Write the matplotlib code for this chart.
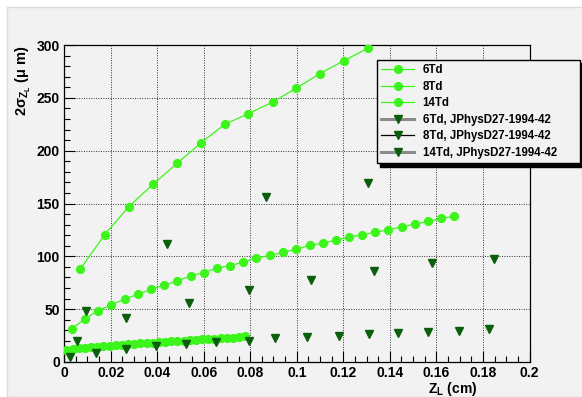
import matplotlib
matplotlib.use('Agg')
import matplotlib.pyplot as plt
from matplotlib.lines import Line2D
from matplotlib.patches import Rectangle
from matplotlib.ticker import MultipleLocator, FormatStrFormatter

# -------------------------------------------------------
# DATOS
# -------------------------------------------------------
x_6td = [0.0070, 0.0175, 0.0278, 0.0381, 0.0486, 0.0589, 0.0691, 0.0792,
         0.0896, 0.0997, 0.1100, 0.1201, 0.1306]
y_6td = [88, 120.5, 147, 168, 188, 207.5, 225, 235, 246, 259, 273, 285, 297]

x_8td = [0.0033, 0.0090, 0.0146, 0.0203, 0.0261, 0.0317, 0.0374, 0.0430,
         0.0487, 0.0545, 0.0601, 0.0658, 0.0714, 0.0771, 0.0827, 0.0886,
         0.0940, 0.0997, 0.1055, 0.1111, 0.1168, 0.1225, 0.1281, 0.1338,
         0.1394, 0.1452, 0.1508, 0.1565, 0.1621, 0.1677]
y_8td = [31.5, 40.7, 48.6, 54, 59.6, 64, 68.8, 72.6, 76.7, 81.7, 84.5, 89,
         91.2, 94.6, 98.4, 100.9, 103.7, 106.6, 110.4, 112.3, 115.4, 118,
         120.5, 122.7, 125.2, 128.1, 130.3, 133.1, 136, 137.9]

x_14td = [0.0010, 0.0037, 0.0063, 0.0090, 0.0116, 0.0143, 0.0169, 0.0196,
          0.0222, 0.0249, 0.0275, 0.0302, 0.0328, 0.0355, 0.0381, 0.0408,
          0.0434, 0.0461, 0.0487, 0.0514, 0.0540, 0.0567, 0.0593, 0.0620,
          0.0646, 0.0673, 0.0699, 0.0726, 0.0752, 0.0779]
y_14td = [11.5, 12.2, 12.8, 13.4, 13.9, 14.4, 14.9, 15.4, 15.9, 16.3, 16.8,
          17.2, 17.6, 18.0, 18.4, 18.8, 19.2, 19.6, 20.0, 20.3, 20.7, 21.0,
          21.4, 21.7, 22.0, 22.4, 22.7, 23.0, 23.3, 24.3]

# JPhysD27-1994-42
x_6td_ref = [0.0093, 0.0441, 0.0866, 0.1306]
y_6td_ref = [48.5, 111.4, 156, 169.7]

x_8td_ref = [0.0057, 0.0267, 0.0536, 0.0795, 0.1062, 0.1330, 0.1581, 0.1849]
y_8td_ref = [20, 41.3, 56, 68, 77.3, 86.1, 93.7, 97.5]

x_14td_ref = [0.0024, 0.0139, 0.0267, 0.0396, 0.0525, 0.0654, 0.0795, 0.0907,
              0.1042, 0.1180, 0.1309, 0.1437, 0.1566, 0.1695, 0.1826]
y_14td_ref = [5, 8.8, 12, 15, 16.7, 19, 20.2, 22.7, 23.3, 24.3, 26.5, 27.1,
              28.7, 29.6, 31.5]

labels = ['6Td', '8Td', '14Td',
          '6Td, JPhysD27-1994-42', '8Td, JPhysD27-1994-42',
          '14Td, JPhysD27-1994-42']

# -------------------------------------------------------
# ESTILO
# -------------------------------------------------------
plt.rcParams['font.family'] = ['Liberation Sans', 'DejaVu Sans']
plt.rcParams['font.weight'] = 'bold'
plt.rcParams['mathtext.fontset'] = 'custom'
plt.rcParams['mathtext.rm'] = 'Liberation Sans:bold'
plt.rcParams['mathtext.it'] = 'Liberation Sans:bold'
plt.rcParams['mathtext.bf'] = 'Liberation Sans:bold'

bg = '#f2f2f2'
verde = '#3cf51a'
verde_osc = '#0b5e0b'

fig = plt.figure(figsize=(5.82, 3.97), dpi=100, facecolor='white')
fig.patches.append(Rectangle((7 / 582, 0), 1, 1 - 7 / 397, transform=fig.transFigure,
                             facecolor=bg, edgecolor='#dcdcdc', lw=1, zorder=-10))
ax = fig.add_axes([0.110, 0.0882, 0.7998, 0.7984])
ax.set_facecolor(bg)

# curvas simuladas
for xs, ys in [(x_6td, y_6td), (x_8td, y_8td), (x_14td, y_14td)]:
    ax.plot(xs, ys, '-o', color=verde, lw=0.9, ms=5.6, mec=verde, zorder=3)

# datos de referencia
for xs, ys in [(x_6td_ref, y_6td_ref), (x_8td_ref, y_8td_ref), (x_14td_ref, y_14td_ref)]:
    ax.plot(xs, ys, 'v', color=verde_osc, ms=6, ls='none', zorder=4)

ax.set_xlim(0, 0.2)
ax.set_ylim(0, 300)
ax.xaxis.set_major_locator(MultipleLocator(0.02))
ax.xaxis.set_minor_locator(MultipleLocator(0.005))
ax.yaxis.set_major_locator(MultipleLocator(50))
ax.yaxis.set_minor_locator(MultipleLocator(10))
ax.xaxis.set_major_formatter(FormatStrFormatter('%g'))
ax.tick_params(which='both', direction='in', labelsize=10, width=0.8)
ax.tick_params(which='major', length=8)
ax.tick_params(which='minor', length=4)
ax.tick_params(axis='y', pad=3)
ax.tick_params(axis='x', pad=3)
for lab in ax.get_xticklabels() + ax.get_yticklabels():
    lab.set_fontweight('bold')
ax.grid(True, which='major', color='#333333', lw=0.7, ls=(0, (1, 1.5)))
for s in ax.spines.values():
    s.set_linewidth(0.9)

ax.set_xlabel('Z$_{L}$ (cm)', fontsize=10, fontweight='bold')
ax.xaxis.set_label_coords(0.834, -0.085)
ax.xaxis.label.set_va('center')
ax.set_ylabel('2σ$_{Z_{L}}$ (μ m)', fontsize=10.5, fontweight='bold', loc='top')
ax.yaxis.set_label_coords(-0.067, 1.0)

# leyenda
handles = [Line2D([], [], color=verde, lw=0.9, marker='o', ms=5.6) for _ in range(3)]
handles += [
    Line2D([], [], color='#8a8a8a', lw=2.2, marker='v', ms=6, mfc=verde_osc, mec=verde_osc),
    Line2D([], [], color='black', lw=0.9, marker='v', ms=6, mfc=verde_osc, mec=verde_osc),
    Line2D([], [], color='#8a8a8a', lw=2.2, marker='v', ms=6, mfc=verde_osc, mec=verde_osc),
]
leg = fig.legend(handles, labels, loc='upper left',
                 bbox_to_anchor=(377 / 582, 1 - 158 / 397, 203 / 582, 98 / 397),
                 mode='expand', borderaxespad=0, fontsize=8.3, fancybox=False,
                 frameon=True, edgecolor='black', facecolor=bg, framealpha=1,
                 handlelength=2.9, handletextpad=0.7, labelspacing=0.4,
                 borderpad=0.35, shadow={'color': 'black', 'alpha': 1, 'ox': 2.5, 'oy': -2.5})
leg.get_frame().set_linewidth(1.0)
for t in leg.get_texts():
    t.set_fontweight('bold')

fig.savefig('out.png', dpi=100, facecolor=fig.get_facecolor())
